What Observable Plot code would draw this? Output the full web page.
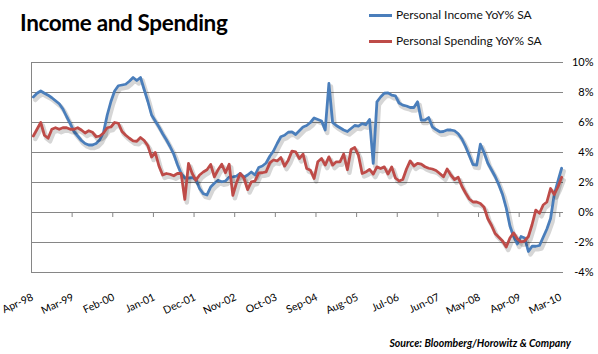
<!DOCTYPE html>
<html><head><meta charset="utf-8">
<script src="https://cdn.jsdelivr.net/npm/d3@7"></script>
<script src="https://cdn.jsdelivr.net/npm/@observablehq/plot@0.6"></script>
<style>
body{margin:0;background:#fff;}
#wrap{position:relative;width:598px;height:354px;overflow:hidden;font-family:Lato,"Open Sans",sans-serif;background:#fff;}
#title{position:absolute;left:20px;top:12px;font-weight:700;font-size:22.5px;letter-spacing:-0.35px;line-height:1;color:#000;white-space:nowrap;}
.leg{position:absolute;left:369px;font-size:12px;line-height:1;color:#111;white-space:nowrap;display:flex;align-items:center;}
.leg .sw{display:inline-block;width:23px;height:3px;margin-right:4px;}
#chart{position:absolute;left:0;top:50px;}
#source{position:absolute;right:27px;top:338px;font-size:10.5px;line-height:1;font-style:italic;font-weight:700;color:#000;white-space:nowrap;}
</style></head>
<body>
<div id="wrap">
  <div id="title">Income and Spending</div>
  <div class="leg" id="leg1" style="top:9px"><span class="sw" style="background:#4A7EBB"></span><span id="legt1"></span></div>
  <div class="leg" id="leg2" style="top:35px"><span class="sw" style="background:#BE4B48"></span><span id="legt2"></span></div>
  <div id="chart"></div>
  <div id="source">Source: Bloomberg/Horowitz &amp; Company</div>
</div>
<script>
// Series names
const seriesNames = ["Personal Income YoY% SA", "Personal Spending YoY% SA"];

// Monthly values, Apr-98 .. Mar-10 (144 months), in %
const income = [
  7.7, 7.95, 8.1, 7.95, 7.82, 7.65, 7.45, 7.25, 6.9, 6.4, 5.93, 5.4,
  5.1, 4.8, 4.6, 4.5, 4.5, 4.6, 4.85, 5.35, 6.5, 7.4, 8.1, 8.45,
  8.5, 8.55, 8.75, 9.0, 8.8, 9.0, 8.2, 7.4, 6.5, 6.1, 5.7, 5.25,
  4.85, 4.4, 3.9, 3.2, 2.6, 2.3, 2.3, 2.33, 2.2, 1.6, 1.25, 1.17,
  1.7, 1.95, 2.15, 2.05, 2.1, 2.35, 2.38, 2.42, 2.6, 2.35, 2.5, 2.7,
  2.5, 3.0, 3.1, 3.3, 3.75, 4.1, 4.6, 5.05, 5.15, 5.35, 5.38, 5.2,
  5.45, 5.7, 5.8, 6.0, 6.3, 6.2, 6.1, 5.5, 8.6, 6.0, 5.8, 5.65,
  5.5, 5.4, 5.6, 5.8, 5.76, 5.93, 5.85, 6.2, 3.27, 7.38, 7.7, 7.95,
  7.98, 7.82, 7.78, 7.3, 7.16, 7.1, 7.0, 7.0, 7.38, 6.16, 6.16, 6.33,
  5.71, 5.53, 5.38, 5.4, 5.5, 5.5, 5.45, 5.25, 4.9, 4.4, 3.8, 3.2,
  3.16, 4.55, 4.0, 3.3, 2.85, 2.4, 1.85, 1.2, 0.3, -0.9, -1.6, -2.1,
  -1.6, -1.7, -2.6, -2.25, -2.25, -2.2, -1.65, -1.1, -0.4, 1.2, 2.1, 2.95
];
const spending = [
  5.1, 5.55, 6.0, 5.15, 4.95, 5.55, 5.65, 5.55, 5.65, 5.65, 5.55, 5.55,
  5.65, 5.5, 5.3, 5.45, 5.35, 5.05, 5.1, 5.3, 5.65, 5.7, 6.0, 5.95,
  5.4, 5.15, 4.95, 4.78, 4.75, 5.0, 4.8, 4.45, 3.7, 4.0, 3.1, 2.5,
  2.6, 2.55, 2.45, 2.6, 2.6, 0.87, 3.27, 2.6, 2.15, 2.5, 2.7, 2.85,
  3.2, 2.38, 2.85, 3.22, 2.65, 3.22, 1.15, 2.0, 2.6, 2.3, 1.53, 2.04,
  2.1, 2.64, 2.65, 2.71, 3.31, 3.5, 3.44, 3.67, 3.09, 3.49, 4.09, 4.04,
  3.6, 3.89, 2.93, 2.82, 2.27, 3.38, 3.6, 3.16, 3.71, 3.16, 3.38, 3.38,
  3.9, 2.85, 4.2, 4.33, 3.82, 2.6, 2.7, 2.87, 2.56, 3.04, 2.93, 3.04,
  2.56, 3.04, 2.3, 2.1, 2.2, 2.9, 3.44, 3.1, 3.27, 3.22, 3.05, 2.95,
  2.9, 2.8, 2.6, 2.38, 2.9, 2.5, 2.2, 2.35, 1.75, 1.3, 0.9, 0.7,
  0.7, 0.6, 0.35, -0.4, -0.85, -1.4, -1.65, -1.9, -2.3, -1.7, -1.36, -1.75,
  -1.96, -1.9, -1.6, -0.8, 0.16, -0.05, 0.5, 0.7, 1.6, 1.2, 1.7, 2.35
];

// Category axis labels (every 11 months)
const xTickIdx = [0, 11, 22, 33, 44, 55, 66, 77, 88, 99, 110, 121, 132, 143];
const xTickLabels = ["Apr-98","Mar-99","Feb-00","Jan-01","Dec-01","Nov-02","Oct-03","Sep-04","Aug-05","Jul-06","Jun-07","May-08","Apr-09","Mar-10"];
const yTicks = [-4, -2, 0, 2, 4, 6, 8, 10];

document.getElementById("legt1").textContent = seriesNames[0];
document.getElementById("legt2").textContent = seriesNames[1];

const incRows = income.map((v, i) => ({i: i + 0.5, v}));
const spdRows = spending.map((v, i) => ({i: i + 0.5, v}));

const blue = "#4A7EBB", red = "#BE4B48", grid = "#868686";

const chart = Plot.plot({
  width: 598,
  height: 265,
  marginLeft: 31,
  marginRight: 35,
  marginTop: 12,
  marginBottom: 43,
  x: {domain: [0, 144], axis: null},
  y: {domain: [-4, 10]},
  style: {fontFamily: "Lato, 'Open Sans', sans-serif", fontSize: "11px", color: "#000", background: "transparent", overflow: "visible"},
  marks: [
    Plot.ruleY(yTicks, {stroke: grid, strokeWidth: 1, strokeOpacity: 1}),
    Plot.ruleX([0], {stroke: grid, strokeWidth: 1, strokeOpacity: 1}),
    Plot.ruleX(xTickIdx, {x: d => d, y1: () => 0, y2: () => 0, insetBottom: -5, stroke: grid, strokeOpacity: 1}),
    Plot.text(xTickIdx, {
      x: d => d, frameAnchor: "bottom",
      text: d => xTickLabels[xTickIdx.indexOf(d)],
      rotate: -25, textAnchor: "end", lineAnchor: "middle",
      dy: 24, dx: 1, fontSize: 10.5, fill: "#000"
    }),
    Plot.axisY(yTicks, {
      anchor: "right", tickSize: 0, tickPadding: 30, textAnchor: "end", label: null,
      tickFormat: d => d + "%", fontSize: 11, fill: "#000"
    }),
    Plot.line(incRows, {x: "i", y: "v", stroke: "#000", strokeOpacity: 0.16, strokeWidth: 4.5, dx: 2, dy: 3, strokeLinejoin: "round"}),
    Plot.line(incRows, {x: "i", y: "v", stroke: blue, strokeWidth: 2.8, strokeLinejoin: "round", strokeLinecap: "round"}),
    Plot.line(spdRows, {x: "i", y: "v", stroke: "#000", strokeOpacity: 0.16, strokeWidth: 4.5, dx: 2, dy: 3, strokeLinejoin: "round"}),
    Plot.line(spdRows, {x: "i", y: "v", stroke: red, strokeWidth: 2.8, strokeLinejoin: "round", strokeLinecap: "round"})
  ]
});
document.getElementById("chart").appendChild(chart);
</script>
</body></html>
